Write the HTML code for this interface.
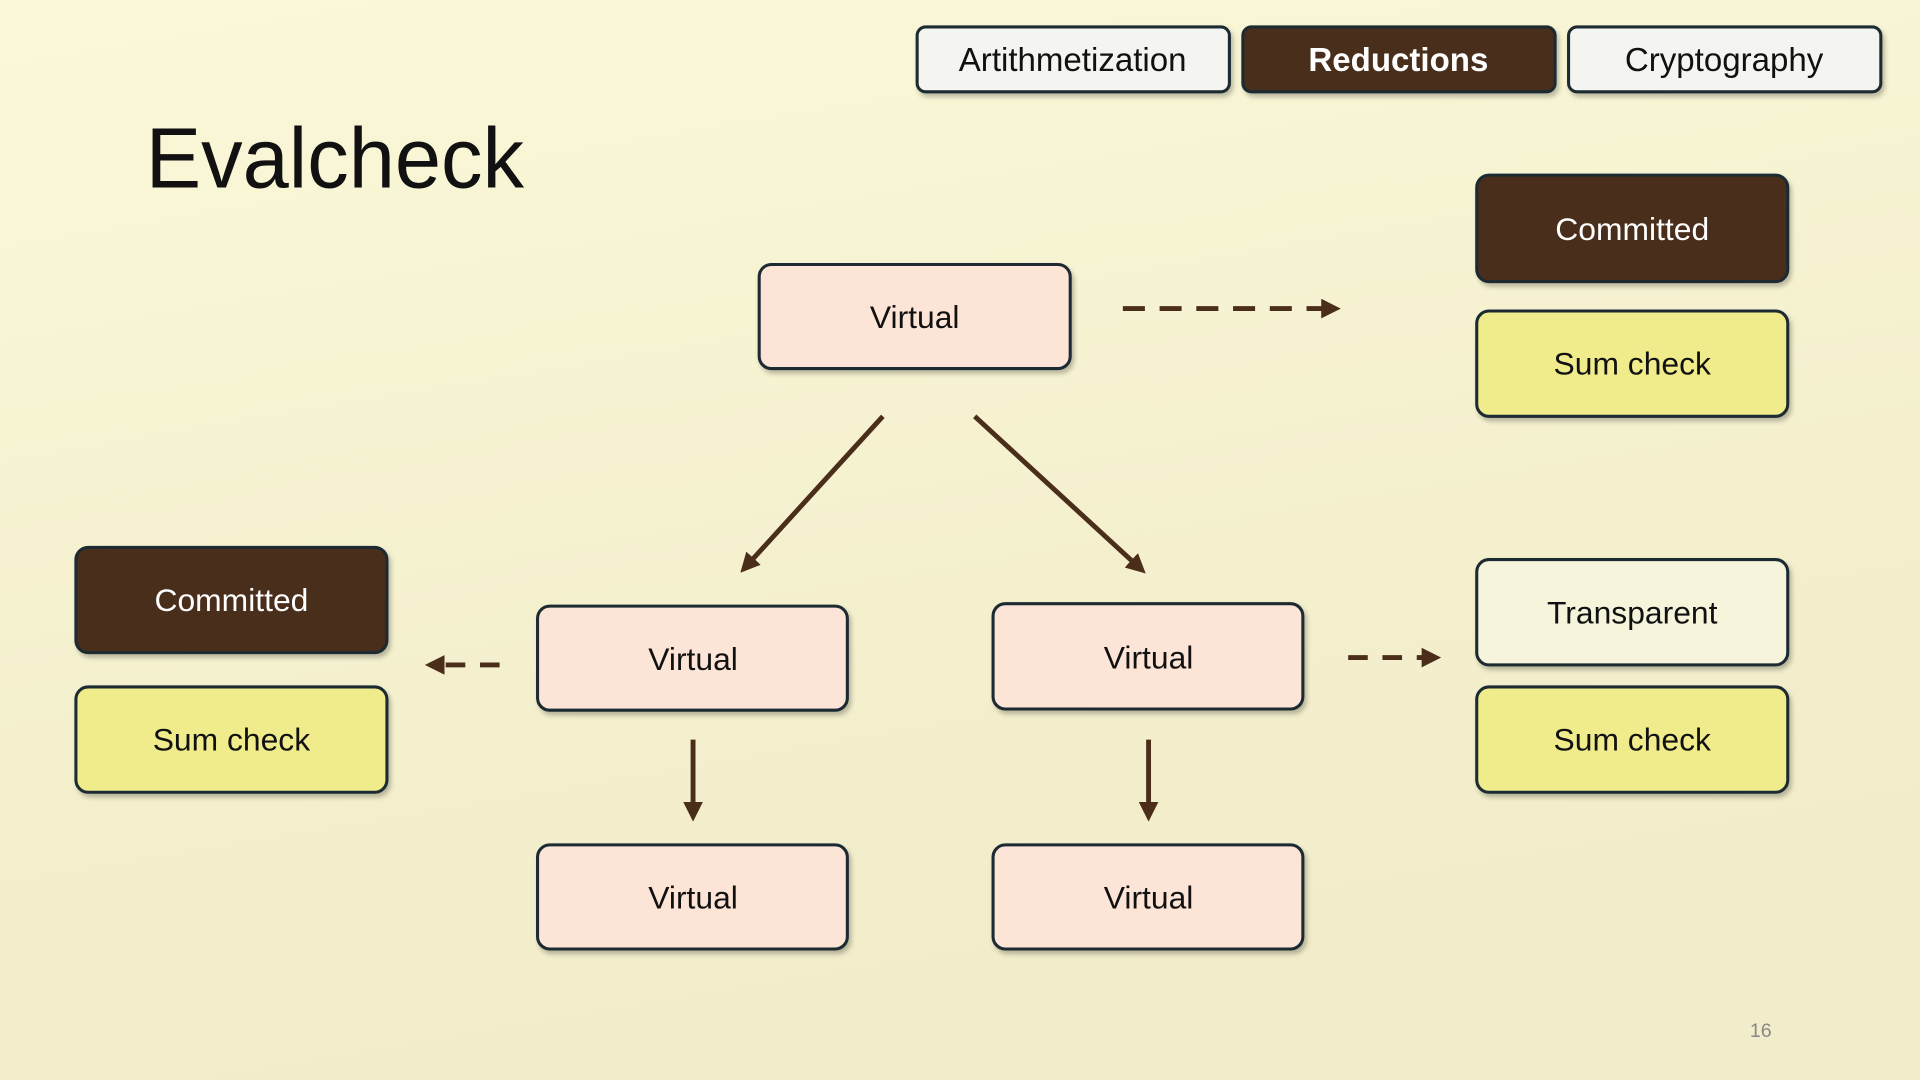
<!DOCTYPE html>
<html><head><meta charset="utf-8"><style>
html,body{margin:0;padding:0;width:1920px;height:1080px;overflow:hidden;background:#f6f3d3}
svg{display:block}
text{font-family:"Liberation Sans",sans-serif}
</style></head><body>
<svg width="1920" height="1080" viewBox="0 0 1568 882" preserveAspectRatio="none">
<defs>
<linearGradient id="bg" x1="0" y1="0" x2="0.3" y2="1">
<stop offset="0" stop-color="#faf8d8"/><stop offset="1" stop-color="#f1ecc9"/>
</linearGradient>
<filter id="sh" x="-10%" y="-10%" width="130%" height="140%"><feDropShadow dx="2" dy="3" stdDeviation="2" flood-color="#000" flood-opacity="0.25"/></filter>
<marker id="ahb" markerWidth="16" markerHeight="16" refX="11" refY="8" orient="auto" markerUnits="userSpaceOnUse" viewBox="0 0 16 16"><path d="M0,0 L16,8 L0,16 z" fill="#4a2e1a"/></marker>
</defs>
<rect width="1568" height="882" fill="url(#bg)"/>
<g filter="url(#sh)" stroke="#1c2a33" stroke-width="2.5">
<rect x="749" y="22" width="255" height="53" rx="7" fill="#f4f4f0"/>
<rect x="1015" y="22" width="255" height="53" rx="7" fill="#4a2e1a"/>
<rect x="1281" y="22" width="255" height="53" rx="7" fill="#f4f4f0"/>
<rect x="620" y="216" width="254" height="85" rx="10" fill="#fce4d6"/>
<rect x="1206" y="143" width="254" height="87" rx="10" fill="#4a2e1a"/>
<rect x="1206" y="254" width="254" height="86" rx="10" fill="#f0ec8c"/>
<rect x="439" y="495" width="253" height="85" rx="10" fill="#fce4d6"/>
<rect x="811" y="493" width="253" height="86" rx="10" fill="#fce4d6"/>
<rect x="62" y="447" width="254" height="86" rx="10" fill="#4a2e1a"/>
<rect x="62" y="561" width="254" height="86" rx="10" fill="#f0ec8c"/>
<rect x="1206" y="457" width="254" height="86" rx="10" fill="#f7f4dc"/>
<rect x="1206" y="561" width="254" height="86" rx="10" fill="#f0ec8c"/>
<rect x="439" y="690" width="253" height="85" rx="10" fill="#fce4d6"/>
<rect x="811" y="690" width="253" height="85" rx="10" fill="#fce4d6"/>
</g>
<g stroke="#4a2e1a" stroke-width="4" fill="none">
<line x1="917" y1="252" x2="1090" y2="252" stroke-dasharray="18,12" marker-end="url(#ahb)"/>
<line x1="408" y1="543" x2="352" y2="543" stroke-dasharray="16,12" marker-end="url(#ahb)"/>
<line x1="1101" y1="537" x2="1172" y2="537" stroke-dasharray="16,12" marker-end="url(#ahb)"/>
<line x1="721" y1="340" x2="608" y2="464" marker-end="url(#ahb)"/>
<line x1="796" y1="340" x2="932" y2="465" marker-end="url(#ahb)"/>
<line x1="566" y1="604" x2="566" y2="666" marker-end="url(#ahb)"/>
<line x1="938" y1="604" x2="938" y2="666" marker-end="url(#ahb)"/>
</g>
<text x="119" y="153" font-size="70" fill="#111" textLength="309" lengthAdjust="spacingAndGlyphs">Evalcheck</text>
<g font-size="27" text-anchor="middle">
<text x="876" y="58" fill="#111">Artithmetization</text>
<text x="1142" y="58" fill="#fff" font-weight="bold">Reductions</text>
<text x="1408" y="58" fill="#111">Cryptography</text>
</g>
<g font-size="26" text-anchor="middle" fill="#111">
<text x="747" y="268">Virtual</text>
<text x="1333" y="196" fill="#fff">Committed</text>
<text x="1333" y="306">Sum check</text>
<text x="566" y="547">Virtual</text>
<text x="938" y="546">Virtual</text>
<text x="189" y="499" fill="#fff">Committed</text>
<text x="189" y="613">Sum check</text>
<text x="1333" y="509">Transparent</text>
<text x="1333" y="613">Sum check</text>
<text x="566" y="742">Virtual</text>
<text x="938" y="742">Virtual</text>
</g>
<text x="1438" y="847" font-size="16" fill="#888" text-anchor="middle">16</text>
</svg>
</body></html>
